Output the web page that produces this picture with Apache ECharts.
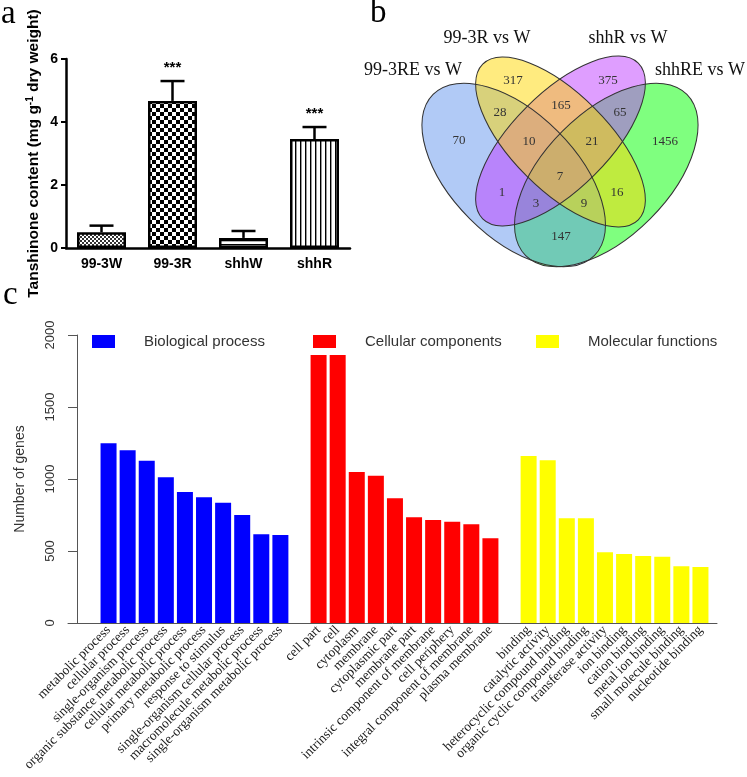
<!DOCTYPE html>
<html>
<head>
<meta charset="utf-8">
<script src="https://cdn.jsdelivr.net/npm/echarts@6/dist/echarts.min.js"></script>
<style>html,body{margin:0;padding:0;background:#fff}#c{width:747px;height:777px}</style>
</head>
<body>
<div id="c"></div>
<script>
// ---------- Panel a data ----------
const aCategories = ['99-3W', '99-3R', 'shhW', 'shhR'];
const aMeans = [0.50, 4.67, 0.32, 3.46];
const aErrors = [0.21, 0.63, 0.22, 0.38];
const aStars = ['', '***', '', '***'];
const aTicks = [0, 2, 4, 6];

// ---------- Panel b data ----------
const vennSets = ['99-3RE vs W', '99-3R vs W', 'shhR vs W', 'shhRE vs W'];
const vennCounts = [70, 317, 28, 165, 375, 65, 10, 21, 1456, 7, 1, 16, 3, 9, 147];

// ---------- Panel c data ----------
const bioTerms = ['metabolic process', 'cellular process', 'single-organism process', 'organic substance metabolic process', 'cellular metabolic process', 'primary metabolic process', 'response to stimulus', 'single-organism cellular process', 'macromolecule metabolic process', 'single-organism metabolic process'];
const bioValues = [1248, 1199, 1127, 1012, 910, 873, 835, 750, 616, 611];
const cellTerms = ['cell part', 'cell', 'cytoplasm', 'membrane', 'cytoplasmic part', 'membrane part', 'intrinsic component of membrane', 'cell periphery', 'integral component of membrane', 'plasma membrane'];
const cellValues = [1861, 1861, 1049, 1023, 866, 734, 715, 703, 685, 588];
const molTerms = ['binding', 'catalytic activity', 'heterocyclic compound binding', 'organic cyclic compound binding', 'transferase activity', 'ion binding', 'cation binding', 'metal ion binding', 'small molecule binding', 'nucleotide binding'];
const molValues = [1160, 1130, 727, 727, 491, 479, 465, 460, 394, 389];
const groupNames = ['Biological process', 'Cellular components', 'Molecular functions'];
const cTicks = [0, 500, 1000, 1500, 2000];

// ---------- layout / style (not data) ----------
const SANS = '"Liberation Sans", Arial, sans-serif';
const SERIF = '"Liberation Serif", "Times New Roman", serif';
const groupColors = ['#0000ff', '#ff0000', '#ffff00'];

function makePattern(kind) {
  const cv = document.createElement('canvas');
  const ctx = cv.getContext('2d');
  if (kind === 'fineCheck') {
    cv.width = 4; cv.height = 4;
    ctx.fillStyle = '#fff'; ctx.fillRect(0, 0, 4, 4);
    ctx.fillStyle = '#333'; ctx.fillRect(0, 0, 2, 2); ctx.fillRect(2, 2, 2, 2);
  } else if (kind === 'check') {
    cv.width = 8; cv.height = 8;
    ctx.fillStyle = '#fff'; ctx.fillRect(0, 0, 8, 8);
    ctx.fillStyle = '#000'; ctx.fillRect(0, 0, 4, 4); ctx.fillRect(4, 4, 4, 4);
  } else if (kind === 'hline') {
    cv.width = 4; cv.height = 4;
    ctx.fillStyle = '#fff'; ctx.fillRect(0, 0, 4, 4);
    ctx.fillStyle = '#000'; ctx.fillRect(0, 0, 4, 1.3);
  } else {
    cv.width = 5; cv.height = 5;
    ctx.fillStyle = '#fff'; ctx.fillRect(0, 0, 5, 5);
    ctx.fillStyle = '#000'; ctx.fillRect(0, 0, 1.4, 5);
  }
  return { image: cv, repeat: 'repeat' };
}
const aPatterns = [makePattern('fineCheck'), makePattern('check'), makePattern('hline'), makePattern('vline')];

// Venn layout
const vennEllipses = [ // drawn in this order
  { cx: 606.3, cy: 175, rx: 114, ry: 62, rot: Math.PI / 4, fill: 'rgba(0,255,0,0.5)' },      // shhRE
  { cx: 513.7, cy: 175, rx: 114, ry: 62, rot: -Math.PI / 4, fill: 'rgba(100,149,237,0.5)' }, // 99-3RE
  { cx: 560.5, cy: 141, rx: 110, ry: 48, rot: Math.PI / 4, fill: 'rgba(191,62,255,0.5)' },   // shhR
  { cx: 560.5, cy: 142, rx: 110, ry: 48, rot: -Math.PI / 4, fill: 'rgba(255,215,0,0.5)' }    // 99-3R
];
const vennCountPos = [[459,141],[513,81],[500,113],[561,106],[608,81],[620,113],[529,142],[592,142],[665,142],[560,177],[502,193],[617,193],[536,204],[584,204],[561,237]];
const vennTitlePos = [[413,70],[487,38],[628,38],[700,70]];

const graphics = [];
vennEllipses.forEach((e, i) => {
  graphics.push({ type: 'ellipse', x: e.cx, y: e.cy, rotation: e.rot, z: 10 + i,
    shape: { cx: 0, cy: 0, rx: e.rx, ry: e.ry }, style: { fill: e.fill, stroke: null } });
});
vennEllipses.forEach((e) => {
  graphics.push({ type: 'ellipse', x: e.cx, y: e.cy, rotation: e.rot, z: 20,
    shape: { cx: 0, cy: 0, rx: e.rx, ry: e.ry }, style: { fill: null, stroke: '#333', lineWidth: 1 } });
});
vennCounts.forEach((v, i) => {
  graphics.push({ type: 'text', x: vennCountPos[i][0], y: vennCountPos[i][1], z: 30,
    style: { text: String(v), align: 'center', verticalAlign: 'middle', fontSize: 13, fontFamily: SERIF, fill: '#333' } });
});
vennSets.forEach((s, i) => {
  graphics.push({ type: 'text', x: vennTitlePos[i][0], y: vennTitlePos[i][1], z: 30,
    style: { text: s, align: 'center', verticalAlign: 'middle', fontSize: 18, fontFamily: SERIF, fill: '#111' } });
});
[['a', 1, 31], ['b', 370, 30], ['c', 3, 312]].forEach(([t, x, y]) => {
  graphics.push({ type: 'text', x, y, z: 30,
    style: { text: t, align: 'left', verticalAlign: 'bottom', fontSize: 33, fontFamily: SERIF, fill: '#000' } });
});

// Panel c category slots
const gap1 = ' ', gap2 = '  ';
const cCategories = bioTerms.concat([gap1], cellTerms, [gap2], molTerms);
const empty10 = bioTerms.map(() => '-');
const bioSeries = bioValues.concat(['-'], empty10, ['-'], empty10);
const cellSeries = empty10.concat(['-'], cellValues, ['-'], empty10);
const molSeries = empty10.concat(['-'], empty10, ['-'], molValues);

const chart = echarts.init(document.getElementById('c'), null, { renderer: 'canvas' });
const option = {
  animation: false,
  backgroundColor: '#fff',
  graphic: graphics,
  legend: groupNames.map((n, i) => ({
    data: [n], left: [92, 313, 536][i], top: 334, padding: 0,
    itemWidth: 23, itemHeight: 13, icon: 'rect',
    textStyle: { fontSize: 15, fontFamily: SANS, color: '#333', padding: [0, 0, 0, 24] }
  })),
  grid: [
    { left: 66, top: 59, width: 284, height: 189 },
    { left: 99, top: 335, width: 611, height: 288 },
    { left: 68, top: 335, width: 649, height: 288 }
  ],
  xAxis: [
    { gridIndex: 0, type: 'category', data: aCategories,
      axisLine: { lineStyle: { color: '#000', width: 2.5 } },
      axisTick: { length: 5, alignWithLabel: true, lineStyle: { color: '#000', width: 2 } },
      axisLabel: { fontSize: 14, fontWeight: 'bold', fontFamily: SANS, color: '#000', margin: 9 } },
    { gridIndex: 1, type: 'category', data: cCategories,
      axisLine: { show: false }, axisTick: { show: false },
      axisLabel: { interval: 0, rotate: 45, fontSize: 13.5, fontFamily: SERIF, color: '#1a1a1a', margin: 5 } },
    { gridIndex: 2, type: 'value', min: 0, max: 1,
      axisLine: { show: true, lineStyle: { color: '#555', width: 1 } },
      axisTick: { show: false }, axisLabel: { show: false }, splitLine: { show: false } }
  ],
  yAxis: [
    { gridIndex: 0, type: 'value', min: aTicks[0], max: aTicks[aTicks.length - 1], interval: 2,
      axisLine: { show: true, lineStyle: { color: '#000', width: 2.5 } },
      axisTick: { show: true, length: 5, lineStyle: { color: '#000', width: 2 } },
      splitLine: { show: false },
      axisLabel: { fontSize: 14, fontWeight: 'bold', fontFamily: SANS, color: '#000', margin: 8 },
      name: '{t|Tanshinone content (mg g}{s|-1}{t| dry weight)}',
      nameLocation: 'middle', nameGap: 23,
      nameTextStyle: { rich: {
        t: { fontSize: 15.5, fontWeight: 'bold', fontFamily: SANS, color: '#000', lineHeight: 18 },
        s: { fontSize: 10, fontWeight: 'bold', fontFamily: SANS, color: '#000', lineHeight: 10, verticalAlign: 'top' } } } },
    { gridIndex: 1, type: 'value', min: cTicks[0], max: cTicks[cTicks.length - 1], interval: 500, offset: 22,
      axisLine: { show: true, lineStyle: { color: '#555', width: 1 } },
      axisTick: { show: true, length: 9, lineStyle: { color: '#555', width: 1 } },
      splitLine: { show: false },
      axisLabel: { rotate: 90, fontSize: 13, fontFamily: SANS, color: '#333', margin: 20, formatter: (v) => String(v) },
      name: 'Number of genes', nameLocation: 'middle', nameGap: 50,
      nameTextStyle: { fontSize: 14, fontFamily: SANS, color: '#333' } },
    { gridIndex: 2, type: 'value', show: false, min: 0, max: 1 }
  ],
  series: [
    { type: 'bar', xAxisIndex: 0, yAxisIndex: 0, barWidth: 49,
      data: aMeans.map((v, i) => ({ value: v, itemStyle: { color: aPatterns[i] } })),
      itemStyle: { borderColor: '#000', borderWidth: 2.5 } },
    { type: 'custom', xAxisIndex: 0, yAxisIndex: 0, z: 5,
      data: aMeans.map((v, i) => [i, v, aErrors[i]]),
      encode: { x: 0, y: 1 },
      renderItem: function (params, api) {
        const idx = api.value(0), m = api.value(1), e = api.value(2);
        const p0 = api.coord([idx, m]);
        const p1 = api.coord([idx, m + e]);
        const children = [
          { type: 'line', shape: { x1: p0[0], y1: p0[1], x2: p1[0], y2: p1[1] }, style: { stroke: '#000', lineWidth: 2.5 } },
          { type: 'line', shape: { x1: p1[0] - 12, y1: p1[1], x2: p1[0] + 12, y2: p1[1] }, style: { stroke: '#000', lineWidth: 2.5 } }
        ];
        const s = aStars[params.dataIndex];
        if (s) children.push({ type: 'text', x: p1[0], y: p1[1] - 6,
          style: { text: s, align: 'center', verticalAlign: 'bottom', fontSize: 15, fontWeight: 'bold', fontFamily: SANS, fill: '#000' } });
        return { type: 'group', children: children };
      } },
    { name: groupNames[0], type: 'bar', xAxisIndex: 1, yAxisIndex: 1, barWidth: 16, barGap: '-100%', data: bioSeries, itemStyle: { color: groupColors[0] } },
    { name: groupNames[1], type: 'bar', xAxisIndex: 1, yAxisIndex: 1, barWidth: 16, barGap: '-100%', data: cellSeries, itemStyle: { color: groupColors[1] } },
    { name: groupNames[2], type: 'bar', xAxisIndex: 1, yAxisIndex: 1, barWidth: 16, barGap: '-100%', data: molSeries, itemStyle: { color: groupColors[2] } }
  ]
};
chart.setOption(option);
</script>
</body>
</html>
